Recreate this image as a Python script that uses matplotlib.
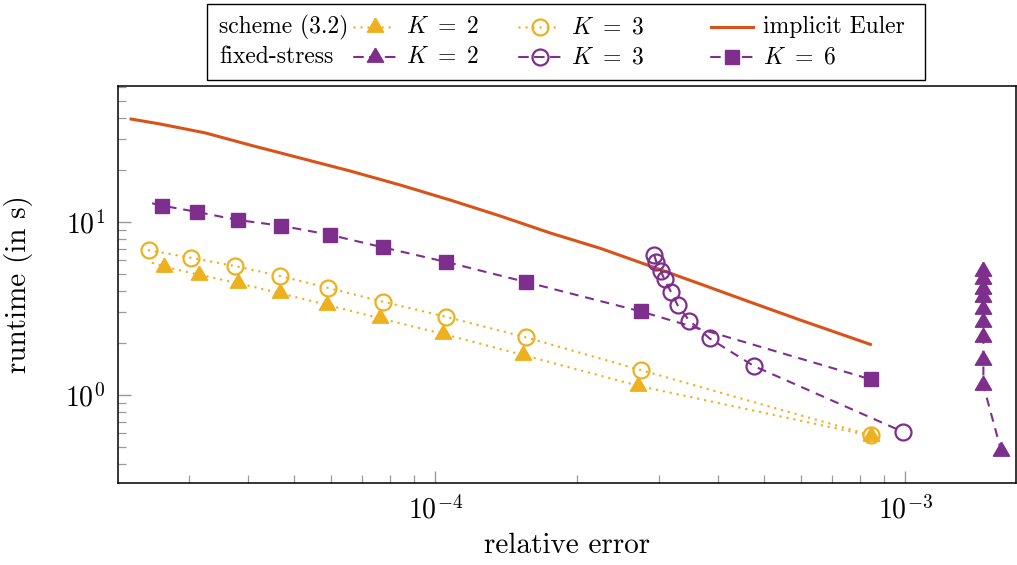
import numpy as np
import matplotlib
matplotlib.use("Agg")
import matplotlib.pyplot as plt
from matplotlib.lines import Line2D
from matplotlib.patches import Rectangle
from matplotlib.ticker import LogLocator, NullFormatter

plt.rcParams['font.family'] = ['cmr10', 'DejaVu Serif']
plt.rcParams['mathtext.fontset'] = 'cm'
plt.rcParams['axes.formatter.use_mathtext'] = True

# ---------------- data ----------------
euler_err = [2.255e-5, 2.60e-5, 3.24e-5, 4.04e-5, 5.16e-5, 6.59e-5, 8.42e-5, 1.076e-4,
             1.375e-4, 1.757e-4, 2.244e-4, 2.867e-4, 3.663e-4, 4.68e-4, 5.98e-4, 8.43e-4]
euler_time = [39.3, 36.8, 32.7, 27.8, 23.4, 19.7, 16.35, 13.38,
              10.82, 8.63, 7.04, 5.56, 4.38, 3.44, 2.71, 1.96]

# scheme (3.2), K = 2 (first entry: line start without mark)
s2_err = [2.51e-5, 2.65e-5, 3.15e-5, 3.80e-5, 4.68e-5, 5.88e-5, 7.64e-5, 1.041e-4, 1.541e-4, 2.70e-4, 8.44e-4]
s2_time = [5.79, 5.51, 4.95, 4.43, 3.87, 3.32, 2.77, 2.25, 1.70, 1.131, 0.581]

# scheme (3.2), K = 3
s3_err = [2.46e-5, 3.02e-5, 3.75e-5, 4.68e-5, 5.93e-5, 7.74e-5, 1.055e-4, 1.562e-4, 2.737e-4, 8.44e-4]
s3_time = [6.85, 6.21, 5.56, 4.87, 4.15, 3.46, 2.83, 2.15, 1.393, 0.586]

# fixed-stress, K = 2
f2_err = [1.466e-3] * 9 + [1.601e-3]
f2_time = [5.17, 4.65, 4.07, 3.66, 3.12, 2.63, 2.15, 1.60, 1.136, 0.472]

# fixed-stress, K = 3
f3_err = [2.924e-4, 2.953e-4, 3.016e-4, 3.075e-4, 3.173e-4, 3.281e-4, 3.471e-4, 3.837e-4, 4.762e-4, 9.88e-4]
f3_time = [6.44, 5.89, 5.22, 4.66, 3.95, 3.29, 2.69, 2.12, 1.47, 0.613]

# fixed-stress, K = 6 (first entry: line start without mark)
f6_err = [2.50e-5, 2.63e-5, 3.12e-5, 3.80e-5, 4.70e-5, 5.96e-5, 7.74e-5, 1.055e-4, 1.562e-4, 2.737e-4, 8.44e-4]
f6_time = [12.81, 12.41, 11.41, 10.26, 9.51, 8.43, 7.13, 5.87, 4.49, 3.04, 1.231]

# ---------------- style ----------------
ORANGE = '#D95319'
YELLOW = '#EDB120'
PURPLE = '#7E2F8E'
TRI = [(0, 1), (-0.866, -0.5), (0.866, -0.5), (0, 1)]
DOT = (0, (0.01, 2.8))
DASH = (0, (4.3, 3.3))

fig = plt.figure(figsize=(10.17, 5.65), dpi=100)
ax = fig.add_axes([117.5 / 1017, 1 - 483 / 565, (1016 - 117.5) / 1017, (483 - 86) / 565])
ax.set_xscale('log')
ax.set_yscale('log')
ax.set_xlim(2.11e-5, 1.72e-3)
ax.set_ylim(0.31, 61.0)

ax.plot(euler_err, euler_time, color=ORANGE, lw=2.2, zorder=3, solid_joinstyle='round')

ax.plot(s2_err, s2_time, color=YELLOW, lw=1.8, ls=DOT, dash_capstyle='round',
        marker=TRI, ms=13.5, mfc=YELLOW, mec=YELLOW, markevery=list(range(1, len(s2_err))), zorder=4)
ax.plot(s3_err, s3_time, color=YELLOW, lw=1.8, ls=DOT, dash_capstyle='round',
        marker='o', ms=11.5, mfc='none', mec=YELLOW, mew=1.6, zorder=4)
ax.plot(f6_err, f6_time, color=PURPLE, lw=1.5, ls=DASH,
        marker='s', ms=10, mfc=PURPLE, mec=PURPLE, markevery=list(range(1, len(f6_err))), zorder=4)
ax.plot(f3_err, f3_time, color=PURPLE, lw=1.5, ls=DASH,
        marker='o', ms=11.5, mfc='none', mec=PURPLE, mew=1.6, zorder=4)
ax.plot(f2_err, f2_time, color=PURPLE, lw=1.5, ls=DASH,
        marker=TRI, ms=13.5, mfc=PURPLE, mec=PURPLE, zorder=4)

# axes styling
for side in ['top', 'right', 'left', 'bottom']:
    ax.spines[side].set_linewidth(1.1)
ax.xaxis.set_major_locator(LogLocator(base=10, numticks=10))
ax.xaxis.set_minor_locator(LogLocator(base=10, subs=np.arange(2, 10), numticks=20))
ax.yaxis.set_major_locator(LogLocator(base=10, numticks=10))
ax.yaxis.set_minor_locator(LogLocator(base=10, subs=np.arange(2, 10), numticks=20))
ax.xaxis.set_minor_formatter(NullFormatter())
ax.yaxis.set_minor_formatter(NullFormatter())
ax.tick_params(which='both', direction='in', color='#9a9a9a', top=False, right=False,
               labelsize=20)
ax.tick_params(which='major', length=9, width=1.0)
ax.tick_params(which='minor', length=6, width=0.9)
ax.tick_params(axis='x', which='major', pad=9)
ax.tick_params(axis='y', which='major', pad=9)

ax.set_xlabel('relative error', fontsize=21, labelpad=6)
ax.set_ylabel('runtime (in s)', fontsize=21, labelpad=23)

# ---------------- legend (drawn as a box with rows) ----------------
W, H = 1017.0, 565.0
def fx(px):
    return px / W
def fy(py):
    return 1 - py / H

fig.patches.append(Rectangle((fx(207), fy(80)), fx(925) - fx(207), fy(4) - fy(80),
                             transform=fig.transFigure, fill=False, ec='black', lw=1.0))
LEGSIZE = 17
rows = [27, 57]
fig.text(fx(219), fy(rows[0]), 'scheme (3.2)', fontsize=LEGSIZE, va='center', ha='left')
fig.text(fx(219), fy(rows[1]), 'fixed-stress', fontsize=LEGSIZE, va='center', ha='left')

entries = [
    (375, rows[0], YELLOW, DOT, 1.8, TRI, 13.5, YELLOW, 1.0, r'$K\ =\ 2$'),
    (540, rows[0], YELLOW, DOT, 1.8, 'o', 11.5, 'none', 1.6, r'$K\ =\ 3$'),
    (732, rows[0], ORANGE, '-', 2.2, None, 0, None, 1.0, 'implicit Euler'),
    (375, rows[1], PURPLE, DASH, 1.5, TRI, 13.5, PURPLE, 1.0, r'$K\ =\ 2$'),
    (540, rows[1], PURPLE, DASH, 1.5, 'o', 11.5, 'none', 1.6, r'$K\ =\ 3$'),
    (732, rows[1], PURPLE, DASH, 1.5, 's', 10, PURPLE, 1.0, r'$K\ =\ 6$'),
]
for xc, yc, col, ls, lw, mk, ms, mfc, mew, lab in entries:
    fig.add_artist(Line2D([fx(xc - 21), fx(xc + 21)], [fy(yc), fy(yc)], transform=fig.transFigure,
                          color=col, ls=ls, lw=lw, dash_capstyle='round'))
    if mk is not None:
        fig.add_artist(Line2D([fx(xc)], [fy(yc)], transform=fig.transFigure, ls='none',
                              marker=mk, ms=ms, mfc=mfc, mec=col, mew=mew))
    fig.text(fx(xc + 31), fy(yc), lab, fontsize=LEGSIZE, va='center', ha='left')

fig.savefig('out.png', dpi=100)
